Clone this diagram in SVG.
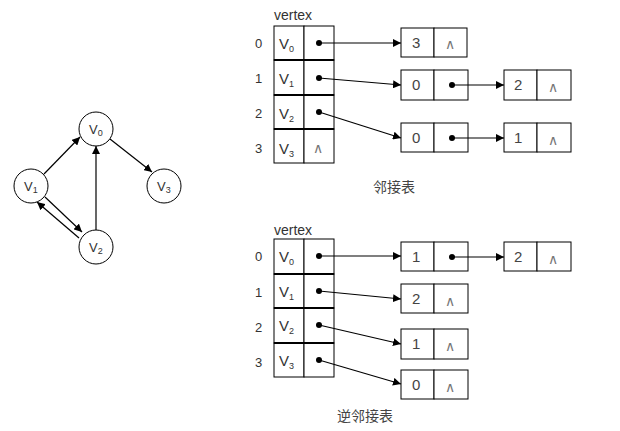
<svg xmlns="http://www.w3.org/2000/svg" width="620" height="431" viewBox="0 0 620 431">
<style>
.t{font-family:"Liberation Sans",Arial,sans-serif;fill:#333;font-size:15px}
.c{font-family:"Liberation Sans",Arial,sans-serif;fill:#333;font-size:13px}
.s{font-size:9px}
.n{font-family:"Liberation Sans",Arial,sans-serif;fill:#444;font-size:15px}
.nil{font-family:"DejaVu Sans",sans-serif;fill:#777;font-size:14px}
.cap{font-family:"Noto Sans CJK SC",sans-serif;fill:#444;font-size:14px}
.box{fill:#fff;stroke:#000;stroke-width:1}
.node{fill:#fff;stroke:#000;stroke-width:1}
.e{stroke:#000;stroke-width:1.2;fill:none;marker-end:url(#ah)}
</style>
<defs>
<marker id="ah" viewBox="0 0 10 10" refX="10" refY="5" markerWidth="8" markerHeight="8" markerUnits="userSpaceOnUse" orient="auto"><path d="M0,0 L10,5 L0,10 Z" fill="#000"/></marker>
</defs>
<rect width="620" height="431" fill="#fff"/>

<!-- graph -->
<g id="g-v0"><circle class="node" cx="96" cy="129" r="17"/><text class="c" x="89" y="134">V<tspan class="s" dy="2">0</tspan></text></g>
<g id="g-v1"><circle class="node" cx="31" cy="186" r="17"/><text class="c" x="24" y="191">V<tspan class="s" dy="2">1</tspan></text></g>
<g id="g-v2"><circle class="node" cx="96" cy="247" r="17"/><text class="c" x="89" y="252">V<tspan class="s" dy="2">2</tspan></text></g>
<g id="g-v3"><circle class="node" cx="164" cy="186" r="17"/><text class="c" x="157" y="191">V<tspan class="s" dy="2">3</tspan></text></g>

<!-- top table -->
<g id="top-vertex">
<text class="t" x="274" y="20" style="font-size:14px">vertex</text>
<text class="t" x="255" y="48" style="font-size:13px">0</text>
<text class="t" x="255" y="83" style="font-size:13px">1</text>
<text class="t" x="255" y="118" style="font-size:13px">2</text>
<text class="t" x="255" y="153" style="font-size:13px">3</text>
<rect class="box" x="274" y="26" width="30" height="34"/><rect class="box" x="304" y="26" width="30" height="34"/>
<rect class="box" x="274" y="60" width="30" height="35"/><rect class="box" x="304" y="60" width="30" height="35"/>
<rect class="box" x="274" y="95" width="30" height="34"/><rect class="box" x="304" y="95" width="30" height="34"/>
<rect class="box" x="274" y="129" width="30" height="34"/><rect class="box" x="304" y="129" width="30" height="34"/>
<path d="M274 60H334M274 95H334M274 129H334" stroke="#000" stroke-width="2"/>
<text class="t" x="279" y="49">V<tspan class="s" dy="3">0</tspan></text>
<text class="t" x="279" y="84">V<tspan class="s" dy="3">1</tspan></text>
<text class="t" x="279" y="119">V<tspan class="s" dy="3">2</tspan></text>
<text class="t" x="279" y="154">V<tspan class="s" dy="3">3</tspan></text>
<circle cx="319" cy="43" r="3"/><circle cx="319" cy="78" r="3"/><circle cx="319" cy="112" r="3"/>
<text class="nil" x="313" y="153">∧</text>
</g>
<g id="top-n03"><rect class="box" x="401" y="28" width="33" height="29"/><rect class="box" x="434" y="28" width="33" height="29"/><text class="n" x="412" y="48">3</text><text class="nil" x="445" y="49">∧</text></g>
<g id="top-n10"><rect class="box" x="401" y="70" width="33" height="30"/><rect class="box" x="434" y="70" width="34" height="30"/><text class="n" x="412" y="90">0</text><circle cx="452" cy="85" r="3"/></g>
<g id="top-n12"><rect class="box" x="504" y="70" width="33" height="30"/><rect class="box" x="537" y="70" width="34" height="30"/><text class="n" x="514" y="90">2</text><text class="nil" x="548" y="92">∧</text></g>
<g id="top-n20"><rect class="box" x="401" y="123" width="33" height="29"/><rect class="box" x="434" y="123" width="34" height="29"/><text class="n" x="412" y="143">0</text><circle cx="452" cy="138" r="3"/></g>
<g id="top-n21"><rect class="box" x="504" y="123" width="33" height="29"/><rect class="box" x="537" y="123" width="34" height="29"/><text class="n" x="514" y="143">1</text><text class="nil" x="548" y="145">∧</text></g>
<text class="cap" x="373" y="192">邻接表</text>

<!-- bottom table -->
<g id="bot-vertex">
<text class="t" x="274" y="235" style="font-size:14px">vertex</text>
<text class="t" x="255" y="261" style="font-size:13px">0</text>
<text class="t" x="255" y="297" style="font-size:13px">1</text>
<text class="t" x="255" y="332" style="font-size:13px">2</text>
<text class="t" x="255" y="367" style="font-size:13px">3</text>
<rect class="box" x="274" y="239" width="30" height="35"/><rect class="box" x="304" y="239" width="30" height="35"/>
<rect class="box" x="274" y="274" width="30" height="34"/><rect class="box" x="304" y="274" width="30" height="34"/>
<rect class="box" x="274" y="308" width="30" height="35"/><rect class="box" x="304" y="308" width="30" height="35"/>
<rect class="box" x="274" y="343" width="30" height="34"/><rect class="box" x="304" y="343" width="30" height="34"/>
<path d="M274 274H334M274 308H334M274 343H334" stroke="#000" stroke-width="2"/>
<text class="t" x="279" y="262">V<tspan class="s" dy="3">0</tspan></text>
<text class="t" x="279" y="297">V<tspan class="s" dy="3">1</tspan></text>
<text class="t" x="279" y="331">V<tspan class="s" dy="3">2</tspan></text>
<text class="t" x="279" y="366">V<tspan class="s" dy="3">3</tspan></text>
<circle cx="319" cy="256" r="3"/><circle cx="319" cy="291" r="3"/><circle cx="319" cy="325" r="3"/><circle cx="319" cy="360" r="3"/>
</g>
<g id="bot-n01"><rect class="box" x="401" y="242" width="33" height="29"/><rect class="box" x="434" y="242" width="34" height="29"/><text class="n" x="412" y="262">1</text><circle cx="452" cy="257" r="3"/></g>
<g id="bot-n02"><rect class="box" x="504" y="242" width="33" height="29"/><rect class="box" x="537" y="242" width="34" height="29"/><text class="n" x="514" y="262">2</text><text class="nil" x="548" y="264">∧</text></g>
<g id="bot-n12"><rect class="box" x="401" y="284" width="33" height="29"/><rect class="box" x="434" y="284" width="34" height="29"/><text class="n" x="412" y="304">2</text><text class="nil" x="445" y="306">∧</text></g>
<g id="bot-n21"><rect class="box" x="401" y="329" width="33" height="30"/><rect class="box" x="434" y="329" width="34" height="30"/><text class="n" x="412" y="349">1</text><text class="nil" x="445" y="351">∧</text></g>
<g id="bot-n30"><rect class="box" x="401" y="370" width="33" height="29"/><rect class="box" x="434" y="370" width="34" height="29"/><text class="n" x="412" y="390">0</text><text class="nil" x="445" y="392">∧</text></g>
<text class="cap" x="337" y="421">逆邻接表</text>

<!-- connectors -->
<g id="connectors">
<line class="e" x1="44" y1="174" x2="80" y2="137"/>
<line class="e" x1="110" y1="139" x2="152" y2="172"/>
<line class="e" x1="96" y1="230" x2="96" y2="146"/>
<line class="e" x1="45" y1="197" x2="82" y2="232"/>
<line class="e" x1="79" y1="238" x2="37" y2="202"/>

<line class="e" x1="319" y1="43" x2="401" y2="43"/>
<line class="e" x1="319" y1="78" x2="401" y2="85"/>
<line class="e" x1="319" y1="112" x2="401" y2="138"/>
<line class="e" x1="452" y1="85" x2="504" y2="85"/>
<line class="e" x1="452" y1="138" x2="504" y2="138"/>

<line class="e" x1="319" y1="256" x2="401" y2="256"/>
<line class="e" x1="319" y1="291" x2="401" y2="299"/>
<line class="e" x1="319" y1="325" x2="401" y2="344"/>
<line class="e" x1="319" y1="360" x2="401" y2="384"/>
<line class="e" x1="452" y1="257" x2="504" y2="257"/>
</g>
</svg>
